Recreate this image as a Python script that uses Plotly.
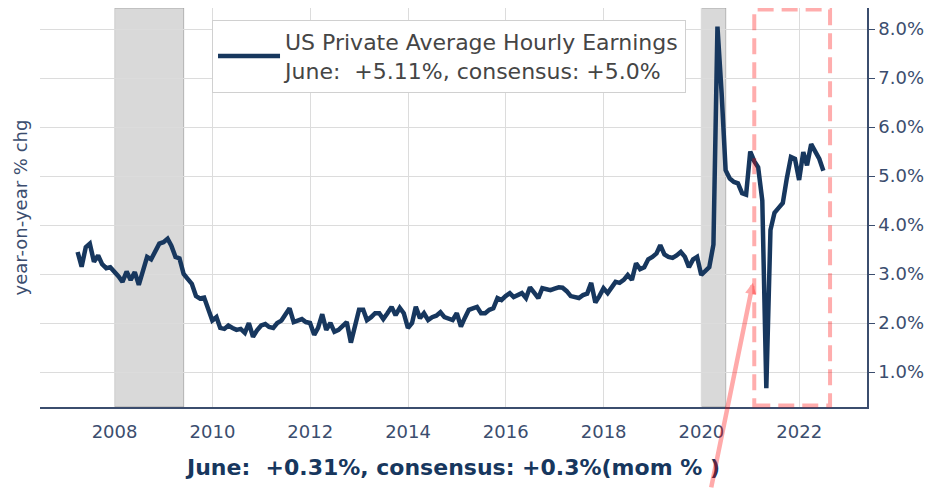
import pandas as pd
import plotly.graph_objects as go

# year-on-year % change, monthly (month-end), Mar 2007 .. Jun 2022
yoy_2007 = [3.45, 3.15, 3.55, 3.62, 3.25, 3.38, 3.20, 3.12, 3.14, 3.05]
yoy_2008 = [2.95, 2.84, 3.05, 2.88, 3.04, 2.78, 3.10, 3.35, 3.30, 3.45, 3.62, 3.65]
yoy_2009 = [3.72, 3.58, 3.35, 3.32, 3.00, 2.90, 2.80, 2.55, 2.50, 2.52, 2.30, 2.05]
yoy_2010 = [2.12, 1.90, 1.88, 1.95, 1.90, 1.86, 1.88, 1.80, 2.00, 1.72, 1.85, 1.95]
yoy_2011 = [1.98, 1.92, 1.90, 2.00, 2.05, 2.16, 2.30, 2.02, 2.05, 2.08, 2.02, 2.00]
yoy_2012 = [1.76, 1.90, 2.18, 1.86, 2.00, 1.82, 1.86, 1.95, 2.02, 1.60, 1.90, 2.27]
yoy_2013 = [2.27, 2.06, 2.12, 2.20, 2.20, 2.08, 2.20, 2.33, 2.16, 2.31, 2.20, 1.90]
yoy_2014 = [2.00, 2.33, 2.10, 2.20, 2.06, 2.12, 2.15, 2.22, 2.12, 2.10, 2.06, 2.20]
yoy_2015 = [1.93, 2.10, 2.27, 2.30, 2.33, 2.20, 2.20, 2.27, 2.30, 2.51, 2.47, 2.55]
yoy_2016 = [2.61, 2.53, 2.58, 2.61, 2.51, 2.73, 2.62, 2.51, 2.71, 2.68, 2.67, 2.70]
yoy_2017 = [2.73, 2.72, 2.65, 2.55, 2.53, 2.51, 2.57, 2.60, 2.82, 2.42, 2.55, 2.71]
yoy_2018 = [2.61, 2.72, 2.84, 2.82, 2.88, 2.98, 2.88, 3.22, 3.10, 3.14, 3.30, 3.35]
yoy_2019 = [3.42, 3.59, 3.40, 3.35, 3.33, 3.38, 3.45, 3.35, 3.14, 3.30, 3.35, 2.98]
yoy_2020 = [3.05, 3.14, 3.60, 8.05, 6.70, 5.12, 4.95, 4.88, 4.85, 4.65, 4.62, 5.50]
yoy_2021 = [5.30, 5.18, 4.50, 0.67, 3.90, 4.25, 4.35, 4.45, 4.95, 5.39, 5.35, 4.92]
yoy_2022 = [5.49, 5.22, 5.65, 5.52, 5.35, 5.11]

yoy = (yoy_2007 + yoy_2008 + yoy_2009 + yoy_2010 + yoy_2011 + yoy_2012 + yoy_2013
       + yoy_2014 + yoy_2015 + yoy_2016 + yoy_2017 + yoy_2018 + yoy_2019
       + yoy_2020 + yoy_2021 + yoy_2022)
dates = pd.date_range('2007-04-01', periods=len(yoy), freq='MS') - pd.Timedelta(days=1)

recessions = [('2008-01-01', '2009-05-31'), ('2020-01-01', '2020-07-01')]
highlight = ('2021-01-30', '2022-08-19')

series_name = 'US Private Average Hourly Earnings<br>June:&nbsp; +5.11%, consensus: +5.0%'
mom_text = '<b>June:&nbsp; +0.31%, consensus: +0.3%(mom % )</b>'
y_ticks = [1, 2, 3, 4, 5, 6, 7, 8]

navy = '#17375e'
axis_col = '#3b4d6e'

fig = go.Figure()
fig.add_trace(go.Scatter(x=dates, y=yoy, mode='lines', name=series_name,
                         line=dict(color=navy, width=4.5)))

shapes = []
for a, b in recessions:
    shapes.append(dict(type='rect', xref='x', yref='paper', x0=a, x1=b, y0=0, y1=1,
                       fillcolor='rgba(128,128,128,0.3)', line=dict(color='rgba(100,100,100,0.4)', width=1),
                       layer='between'))
shapes.append(dict(type='rect', xref='x', yref='paper', x0=highlight[0], x1=highlight[1],
                   y0=0.004, y1=0.996, line=dict(color='rgba(255,0,0,0.32)', width=4, dash='16px,8px'),
                   fillcolor='rgba(0,0,0,0)', layer='above'))

# page body adds 8px offset, so the figure is a bit smaller and shifted
fig.update_layout(
    width=927, height=481,
    margin=dict(l=32, r=68, t=0, b=82),
    paper_bgcolor='white', plot_bgcolor='white',
    font=dict(family='DejaVu Sans', color=axis_col),
    showlegend=True,
    legend=dict(x=0.208, y=0.97, xanchor='left', yanchor='top',
                bgcolor='white', bordercolor='#d0d0d0', borderwidth=1,
                itemwidth=62, tracegroupgap=0,
                font=dict(size=22, color='#454545')),
    shapes=shapes,
    annotations=[
        dict(x='2021-01-20', y=2.82, xref='x', yref='y', text='', showarrow=True,
             ax=-42, ay=206, axref='pixel', ayref='pixel',
             arrowcolor='rgba(255,0,0,0.33)', arrowwidth=4.5, arrowhead=2, arrowsize=0.5),
        dict(x=-0.023, y=0.5, xref='paper', yref='paper', text='year-on-year % chg',
             xanchor='center', yanchor='middle',
             textangle=-90, showarrow=False, font=dict(size=18, color=axis_col)),
    ],
)

fig.update_xaxes(
    type='date', range=['2006-06-23', '2023-05-22'],
    tick0='2008-01-01', dtick='M24', tickformat='%Y',
    showgrid=True, gridcolor='#dcdcdc', gridwidth=1,
    showline=True, linecolor=axis_col, linewidth=1.5,
    ticks='', tickfont=dict(size=18, color=axis_col), ticklabelstandoff=8,
    title=dict(text=mom_text, font=dict(size=22, color=navy), standoff=18),
    zeroline=False,
)
fig.update_yaxes(
    side='right', range=[0.286, 8.43],
    tickvals=y_ticks, ticktext=[f'{v:.1f}%' for v in y_ticks],
    showgrid=True, gridcolor='#dcdcdc', gridwidth=1,
    showline=True, linecolor=axis_col, linewidth=1.5,
    ticks='outside', ticklen=6, tickcolor=axis_col,
    tickfont=dict(size=18, color=axis_col),
    zeroline=False,
)

fig.write_html('out.html')
